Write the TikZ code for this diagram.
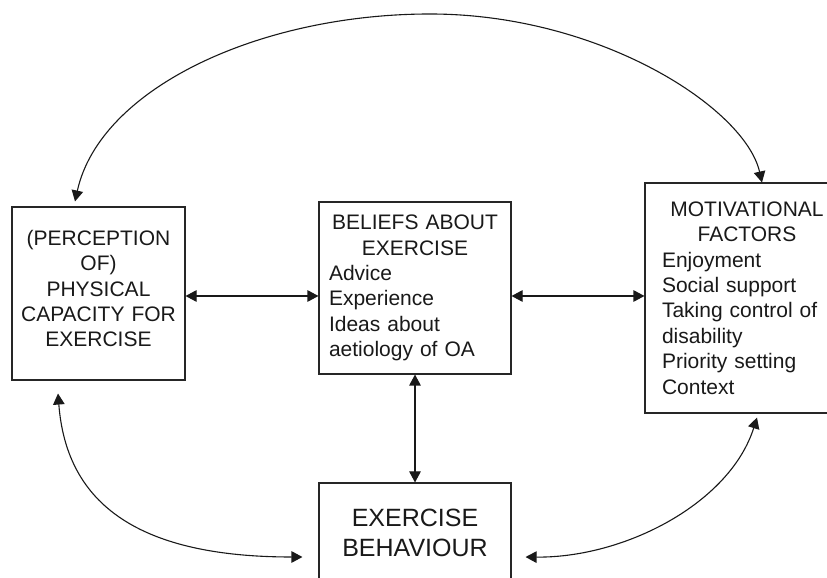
\documentclass[tikz,border=0pt]{standalone}
\usepackage{fontspec}
\setmainfont{Liberation Sans}
\usepackage{tikz}
\usetikzlibrary{arrows.meta}

\begin{document}
\begin{tikzpicture}[x=1pt,y=1pt]
		\tikzstyle{factor}=[draw=black!85, line width=1.1pt, inner sep=0pt, text=black!90, font=\fontsize{21}{25.4}\selectfont]
		\tikzstyle{link}=[line width=1.1pt, draw=black!90, {Triangle[length=11pt,width=11.5pt]}-{Triangle[length=11pt,width=11.5pt]}]

		\useasboundingbox (0,0) rectangle (827,578);
		\clip (0,0) rectangle (827,578);

		% the four boxes
		\node [factor, minimum width=173pt, minimum height=173pt, text width=165pt, align=center] (phys) at (98.5,284.5) {(PERCEPTION\\ OF)\\ PHYSICAL\\ CAPACITY FOR\\ EXERCISE\rule[-10pt]{0pt}{10pt}};
		\node [factor, minimum width=192pt, minimum height=172pt, text width=172pt] (beliefs) at (415,290) {\centering BELIEFS ABOUT\\ EXERCISE\par\raggedright Advice\\ Experience\\ Ideas about\\ aetiology of OA};
		\node [factor, minimum width=204pt, minimum height=230pt, text width=170pt] (motiv) at (747,280) {\centering MOTIVATIONAL\\ FACTORS\par\raggedright Enjoyment\\ Social support\\ Taking control of\\ disability\\ Priority setting\\ Context};
		\node [factor, minimum width=192pt, minimum height=100pt, font=\fontsize{25}{30}\selectfont, align=center] (behav) at (415,45) {EXERCISE\\ BEHAVIOUR};

		% links
		\draw [link] ([xshift=-23.5pt,yshift=5pt]phys.north) .. controls (100,490) and (260,564) .. (430,564) .. controls (600,564) and (745,470) .. ([xshift=15pt]motiv.north);
		\draw [link] ([yshift=-2.5pt]phys.east) -- ([yshift=-8pt]beliefs.west);
		\draw [link] ([yshift=-8pt]beliefs.east) -- ([yshift=2pt]motiv.west);
		\draw [link] (beliefs.south) -- (behav.north);
		\draw [link] ([xshift=-40.5pt,yshift=-13pt]phys.south) .. controls (66,80) and (130,21) .. ([xshift=-16pt,yshift=-24pt]behav.west);
		\draw [link] ([xshift=10pt,yshift=-4pt]motiv.south) .. controls (730,75) and (625,20) .. ([xshift=14pt,yshift=-24pt]behav.east);

	\end{tikzpicture}
\end{document}
